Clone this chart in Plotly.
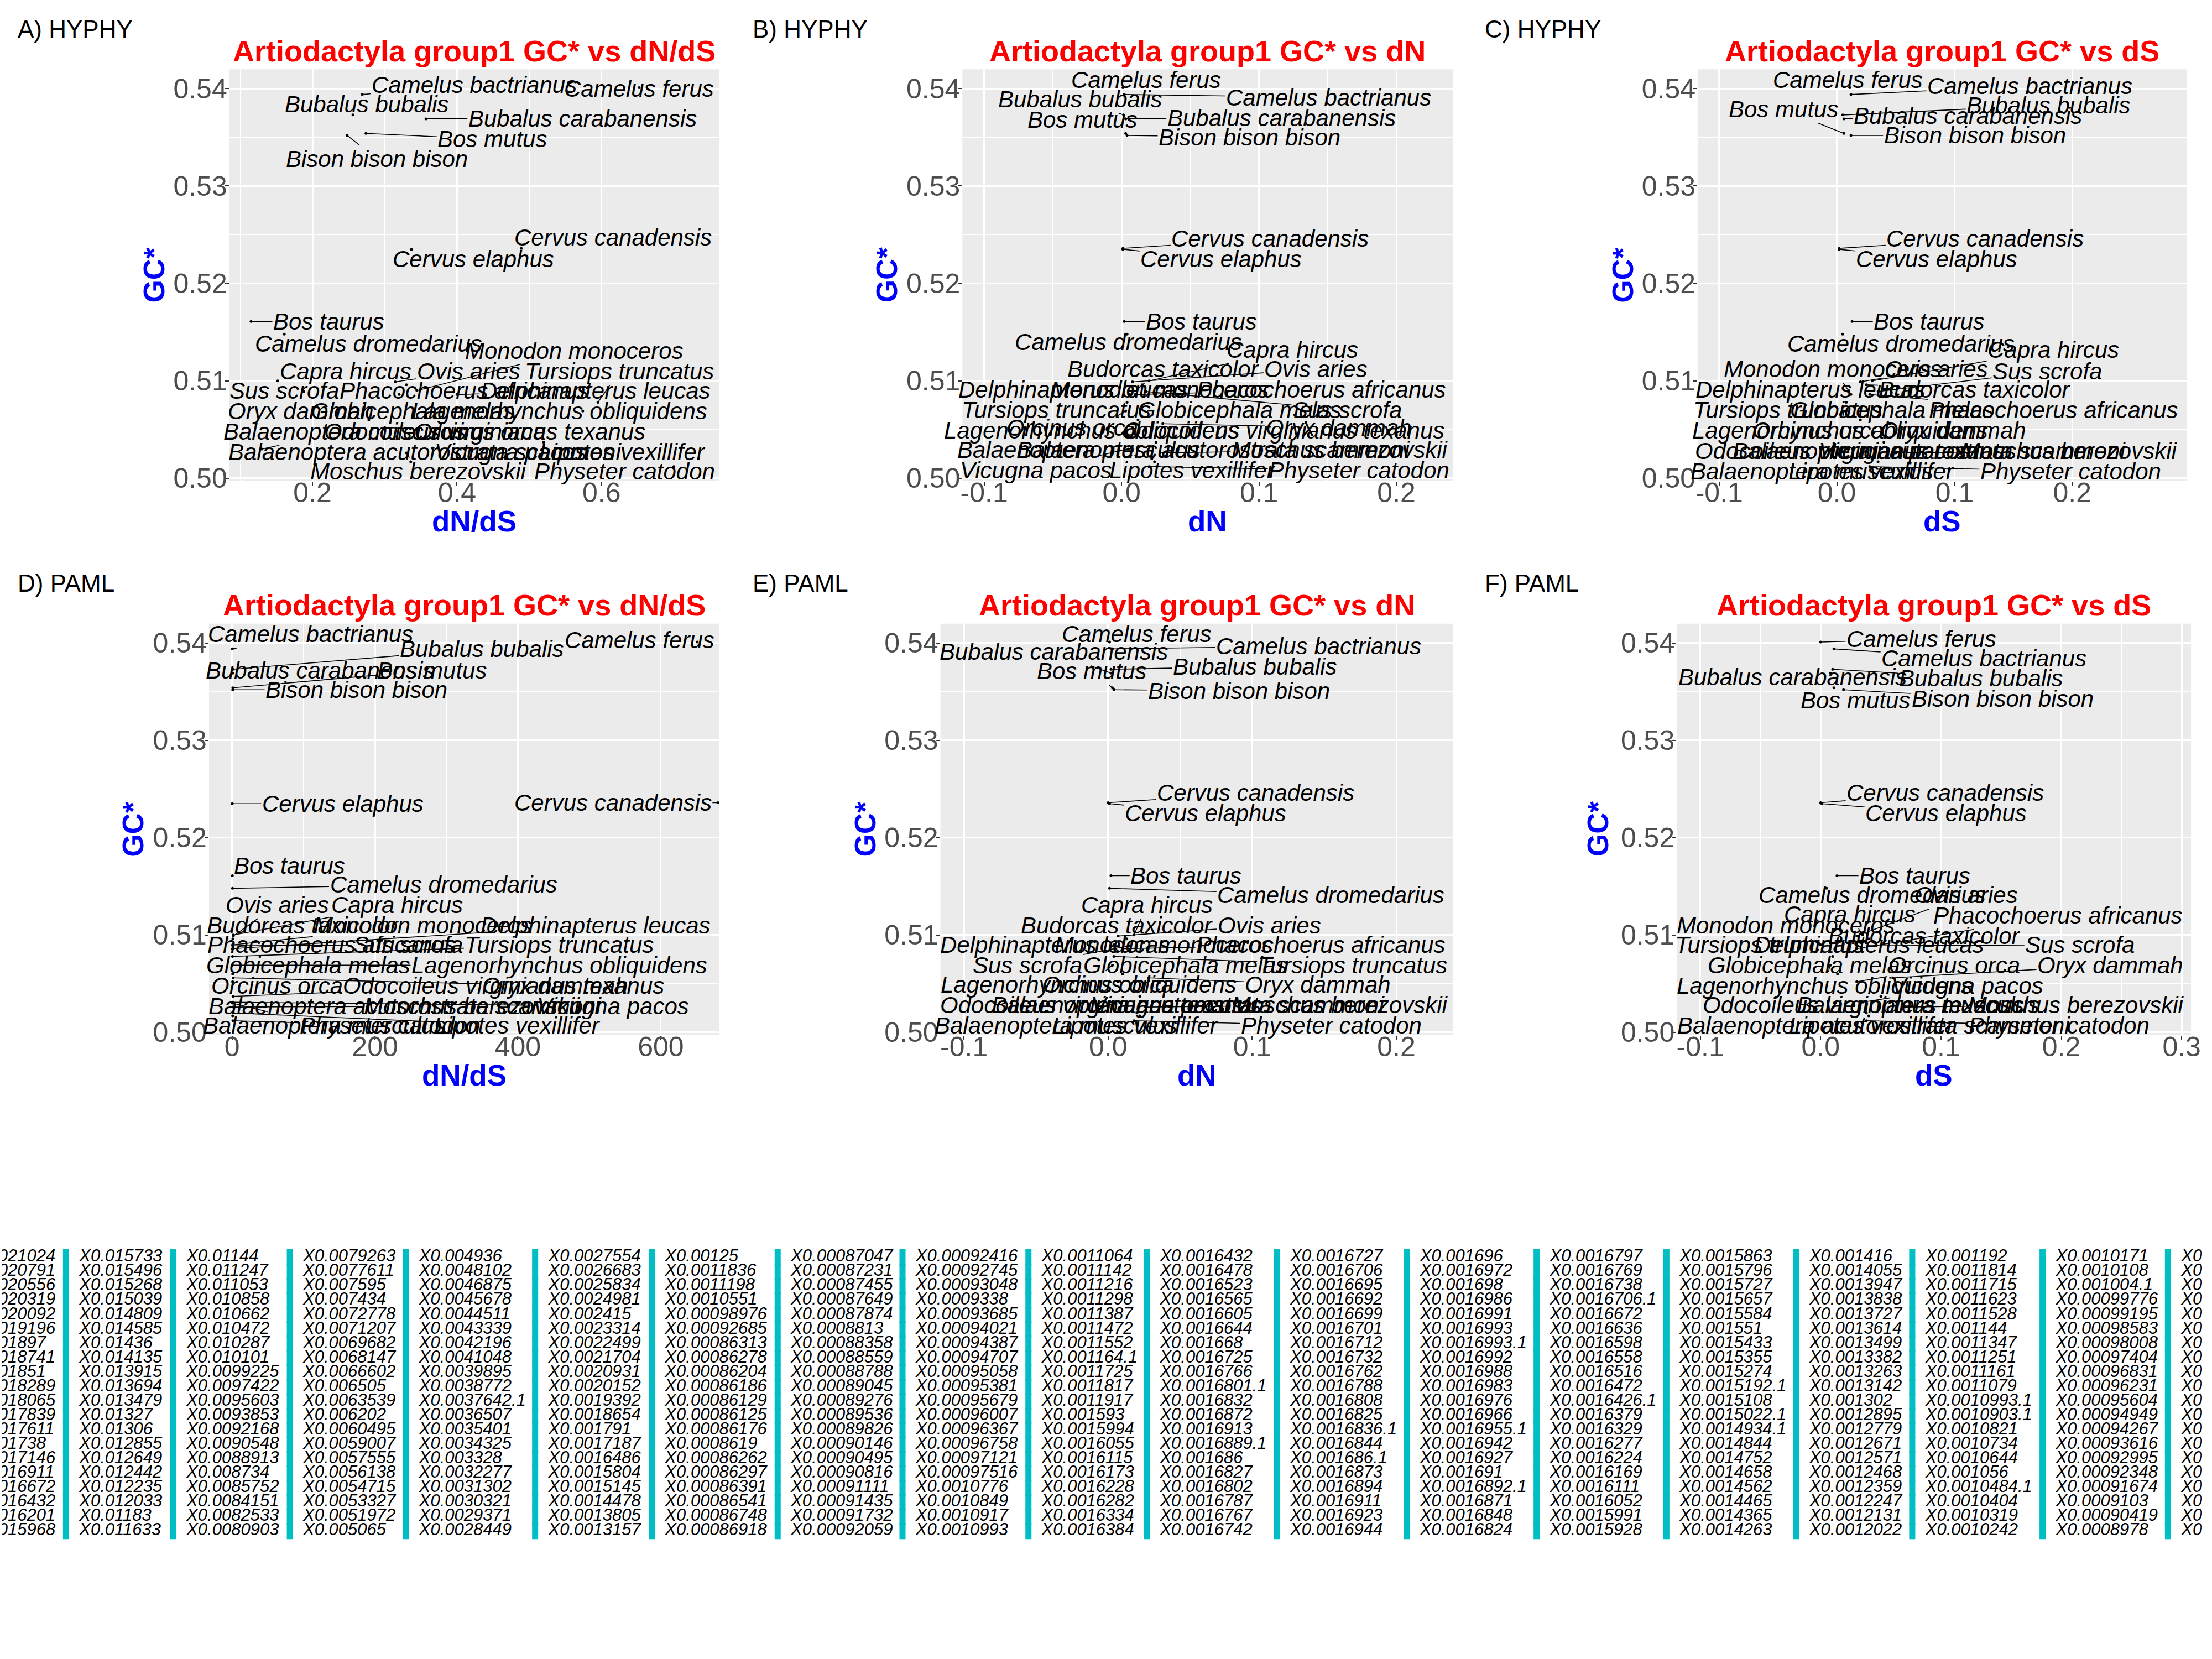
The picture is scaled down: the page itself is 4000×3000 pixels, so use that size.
import plotly.graph_objects as go

# ---------------- data ----------------
species = ["Camelus ferus", "Camelus bactrianus", "Bubalus bubalis", "Bubalus carabanensis",
           "Bos mutus", "Bison bison bison", "Cervus canadensis", "Cervus elaphus", "Bos taurus",
           "Camelus dromedarius", "Capra hircus", "Ovis aries", "Budorcas taxicolor",
           "Monodon monoceros", "Sus scrofa", "Phacochoerus africanus", "Delphinapterus leucas",
           "Tursiops truncatus", "Lagenorhynchus obliquidens", "Globicephala melas", "Oryx dammah",
           "Orcinus orca", "Odocoileus virginianus texanus", "Balaenoptera musculus",
           "Vicugna pacos", "Moschus berezovskii", "Lipotes vexillifer",
           "Balaenoptera acutorostrata scammoni", "Physeter catodon"]

gc_star = [0.5401, 0.5394, 0.5373, 0.5369, 0.5354, 0.5352, 0.5236, 0.5235, 0.5161, 0.5148,
           0.5100, 0.5099, 0.5096, 0.5090, 0.5089, 0.5086, 0.5086, 0.5078, 0.5069, 0.5060,
           0.5056, 0.5052, 0.5037, 0.5030, 0.5031, 0.5026, 0.5020, 0.5017, 0.5012]

hyphy_dnds = [0.652, 0.269, 0.256, 0.357, 0.274, 0.248, 0.489, 0.337, 0.115, 0.161,
              0.152, 0.3145, 0.33, 0.3445, 0.188, 0.32, 0.400, 0.595, 0.574, 0.278,
              0.122, 0.30, 0.520, 0.13, 0.366, 0.33, 0.734, 0.336, 0.70]
hyphy_dn = [0.001, 0.002, 0.0015, 0.003, 0.003, 0.004, 0.001, 0.001, 0.002, 0.004,
            0.02, 0.008, 0.015, 0.005, 0.018, 0.01, 0.006, 0.004, 0.003, 0.012,
            0.03, 0.008, 0.025, 0.005, 0.007, 0.028, 0.022, 0.024, 0.02]
hyphy_ds = [0.011, 0.012, 0.005, 0.006, 0.006, 0.012, 0.002, 0.002, 0.013, 0.005,
            0.03, 0.02, 0.025, 0.01, 0.035, 0.028, 0.012, 0.008, 0.006, 0.02,
            0.045, 0.015, 0.04, 0.008, 0.014, 0.05, 0.03, 0.035, 0.028]
paml_dnds = [651, 0.5, 1.2, 0.8, 1.0, 0.9, 680, 0.3, 0.4, 0.6,
             1.5, 1.8, 1.1, 0.7, 0.9, 1.3, 0.5, 0.6, 0.4, 0.8,
             1.6, 0.7, 1.2, 0.5, 0.9, 1.4, 1.0, 0.8, 1.1]
paml_dn = [0.001, 0.003, 0.002, 0.002, 0.003, 0.004, 0.0, 0.001, 0.002, 0.001,
           0.018, 0.007, 0.013, 0.004, 0.015, 0.01, 0.005, 0.004, 0.003, 0.01,
           0.028, 0.007, 0.022, 0.004, 0.008, 0.026, 0.02, 0.022, 0.018]
paml_ds = [0.0, 0.011, 0.01, 0.008, 0.011, 0.019, 0.0, 0.001, 0.0136, 0.005,
           0.035, 0.03, 0.04, 0.0, 0.045, 0.03, 0.012, 0.01, 0.008, 0.014,
           0.06, 0.03, 0.05, 0.012, 0.035, 0.07, 0.038, 0.04, 0.038]

y_ticks = [0.50, 0.51, 0.52, 0.53, 0.54]
y_ticktext = ["0.50", "0.51", "0.52", "0.53", "0.54"]

# legend labels (column by column, as in the picture)
leg_cols = [
    ["X0.021024", "X0.020791", "X0.020556", "X0.020319", "X0.020092", "X0.019196", "X0.01897", "X0.018741", "X0.01851", "X0.018289",
     "X0.018065", "X0.017839", "X0.017611", "X0.01738", "X0.017146", "X0.016911", "X0.016672", "X0.016432", "X0.016201", "X0.015968"],
    ["X0.015733", "X0.015496", "X0.015268", "X0.015039", "X0.014809", "X0.014585", "X0.01436", "X0.014135", "X0.013915", "X0.013694",
     "X0.013479", "X0.01327", "X0.01306", "X0.012855", "X0.012649", "X0.012442", "X0.012235", "X0.012033", "X0.01183", "X0.011633"],
    ["X0.01144", "X0.011247", "X0.011053", "X0.010858", "X0.010662", "X0.010472", "X0.010287", "X0.010101", "X0.0099225", "X0.0097422",
     "X0.0095603", "X0.0093853", "X0.0092168", "X0.0090548", "X0.0088913", "X0.008734", "X0.0085752", "X0.0084151", "X0.0082533", "X0.0080903"],
    ["X0.0079263", "X0.0077611", "X0.007595", "X0.007434", "X0.0072778", "X0.0071207", "X0.0069682", "X0.0068147", "X0.0066602", "X0.006505",
     "X0.0063539", "X0.006202", "X0.0060495", "X0.0059007", "X0.0057555", "X0.0056138", "X0.0054715", "X0.0053327", "X0.0051972", "X0.005065"],
    ["X0.004936", "X0.0048102", "X0.0046875", "X0.0045678", "X0.0044511", "X0.0043339", "X0.0042196", "X0.0041048", "X0.0039895", "X0.0038772",
     "X0.0037642.1", "X0.0036507", "X0.0035401", "X0.0034325", "X0.003328", "X0.0032277", "X0.0031302", "X0.0030321", "X0.0029371", "X0.0028449"],
    ["X0.0027554", "X0.0026683", "X0.0025834", "X0.0024981", "X0.002415", "X0.0023314", "X0.0022499", "X0.0021704", "X0.0020931", "X0.0020152",
     "X0.0019392", "X0.0018654", "X0.001791", "X0.0017187", "X0.0016486", "X0.0015804", "X0.0015145", "X0.0014478", "X0.0013805", "X0.0013157"],
    ["X0.00125", "X0.0011836", "X0.0011198", "X0.0010551", "X0.00098976", "X0.00092685", "X0.00086313", "X0.00086278", "X0.00086204", "X0.00086186",
     "X0.00086129", "X0.00086125", "X0.00086176", "X0.0008619", "X0.00086262", "X0.00086297", "X0.00086391", "X0.00086541", "X0.00086748", "X0.00086918"],
    ["X0.00087047", "X0.00087231", "X0.00087455", "X0.00087649", "X0.00087874", "X0.0008813", "X0.00088358", "X0.00088559", "X0.00088788", "X0.00089045",
     "X0.00089276", "X0.00089536", "X0.00089826", "X0.00090146", "X0.00090495", "X0.00090816", "X0.00091111", "X0.00091435", "X0.00091732", "X0.00092059"],
    ["X0.00092416", "X0.00092745", "X0.00093048", "X0.0009338", "X0.00093685", "X0.00094021", "X0.00094387", "X0.00094707", "X0.00095058", "X0.00095381",
     "X0.00095679", "X0.00096007", "X0.00096367", "X0.00096758", "X0.00097121", "X0.00097516", "X0.0010776", "X0.0010849", "X0.0010917", "X0.0010993"],
    ["X0.0011064", "X0.0011142", "X0.0011216", "X0.0011298", "X0.0011387", "X0.0011472", "X0.0011552", "X0.001164.1", "X0.0011725", "X0.0011817",
     "X0.0011917", "X0.001593", "X0.0015994", "X0.0016055", "X0.0016115", "X0.0016173", "X0.0016228", "X0.0016282", "X0.0016334", "X0.0016384"],
    ["X0.0016432", "X0.0016478", "X0.0016523", "X0.0016565", "X0.0016605", "X0.0016644", "X0.001668", "X0.0016725", "X0.0016766", "X0.0016801.1",
     "X0.0016832", "X0.0016872", "X0.0016913", "X0.0016889.1", "X0.001686", "X0.0016827", "X0.0016802", "X0.0016787", "X0.0016767", "X0.0016742"],
    ["X0.0016727", "X0.0016706", "X0.0016695", "X0.0016692", "X0.0016699", "X0.0016701", "X0.0016712", "X0.0016732", "X0.0016762", "X0.0016788",
     "X0.0016808", "X0.0016825", "X0.0016836.1", "X0.0016844", "X0.001686.1", "X0.0016873", "X0.0016894", "X0.0016911", "X0.0016923", "X0.0016944"],
    ["X0.001696", "X0.0016972", "X0.001698", "X0.0016986", "X0.0016991", "X0.0016993", "X0.0016993.1", "X0.0016992", "X0.0016988", "X0.0016983",
     "X0.0016976", "X0.0016966", "X0.0016955.1", "X0.0016942", "X0.0016927", "X0.001691", "X0.0016892.1", "X0.0016871", "X0.0016848", "X0.0016824"],
    ["X0.0016797", "X0.0016769", "X0.0016738", "X0.0016706.1", "X0.0016672", "X0.0016636", "X0.0016598", "X0.0016558", "X0.0016516", "X0.0016472",
     "X0.0016426.1", "X0.0016379", "X0.0016329", "X0.0016277", "X0.0016224", "X0.0016169", "X0.0016111", "X0.0016052", "X0.0015991", "X0.0015928"],
    ["X0.0015863", "X0.0015796", "X0.0015727", "X0.0015657", "X0.0015584", "X0.001551", "X0.0015433", "X0.0015355", "X0.0015274", "X0.0015192.1",
     "X0.0015108", "X0.0015022.1", "X0.0014934.1", "X0.0014844", "X0.0014752", "X0.0014658", "X0.0014562", "X0.0014465", "X0.0014365", "X0.0014263"],
    ["X0.001416", "X0.0014055", "X0.0013947", "X0.0013838", "X0.0013727", "X0.0013614", "X0.0013499", "X0.0013382", "X0.0013263", "X0.0013142",
     "X0.001302", "X0.0012895", "X0.0012779", "X0.0012671", "X0.0012571", "X0.0012468", "X0.0012359", "X0.0012247", "X0.0012131", "X0.0012022"],
    ["X0.001192", "X0.0011814", "X0.0011715", "X0.0011623", "X0.0011528", "X0.001144", "X0.0011347", "X0.0011251", "X0.0011161", "X0.0011079",
     "X0.0010993.1", "X0.0010903.1", "X0.0010821", "X0.0010734", "X0.0010644", "X0.001056", "X0.0010484.1", "X0.0010404", "X0.0010319", "X0.0010242"],
    ["X0.0010171", "X0.0010108", "X0.001004.1", "X0.00099776", "X0.00099195", "X0.00098583", "X0.00098008", "X0.00097404", "X0.00096831", "X0.00096231",
     "X0.00095604", "X0.00094949", "X0.00094267", "X0.00093616", "X0.00092995", "X0.00092348", "X0.00091674", "X0.0009103", "X0.00090419", "X0.0008978"],
    ["X0"] * 20,
]

# ---------------- label placement (layout, data coords of label centres) ----------------
lab_A = [(0.652, 0.5400), (0.424, 0.5404), (0.275, 0.5384), (0.5735, 0.5369), (0.449, 0.5348), (0.289, 0.5328),
         (0.616, 0.5247), (0.4226, 0.5225), (0.2226, 0.5161), (0.2774, 0.5138), (0.2458, 0.5110), (0.416, 0.5110),
         None, (0.5626, 0.5131), (0.161, 0.5090), (0.410, 0.5090), (0.5916, 0.5090), (0.625, 0.5110),
         (0.542, 0.5069), (0.3387, 0.5069), (0.184, 0.5069), (0.432, 0.5048), (0.4387, 0.5048), (0.2445, 0.5048),
         (0.474, 0.5027), (0.3465, 0.5007), (0.629, 0.5027), (0.3555, 0.5027), (0.6316, 0.5007)]
lab_B = [(0.0178, 0.5409), (0.1505, 0.5391), (-0.0301, 0.5389), (0.1163, 0.5370), (-0.0287, 0.5368), (0.0931, 0.5350),
         (0.1081, 0.5246), (0.0725, 0.5225), (0.0582, 0.5161), (0.0051, 0.5140), (0.1242, 0.5132), (0.1416, 0.5112),
         (0.0304, 0.5112), (0.028, 0.5091), (0.1642, 0.5070), (0.1454, 0.5091), (-0.0352, 0.5091), (-0.0476, 0.5070),
         (-0.0216, 0.5049), (0.0859, 0.5070), (0.158, 0.5052), (-0.0359, 0.5052), (0.118, 0.5049), (-0.0311, 0.5029),
         (-0.0622, 0.5008), (0.1587, 0.5029), (0.0517, 0.5008), (0.067, 0.5029), (0.1728, 0.5008)]
lab_C = [(0.0095, 0.5409), (0.1641, 0.5403), (0.18, 0.5383), (0.1114, 0.5372), (-0.0456, 0.5379), (0.1173, 0.5352),
         (0.126, 0.5246), (0.0848, 0.5225), (0.0785, 0.5161), (0.0543, 0.5138), (0.1839, 0.5132), (0.0844, 0.5112),
         (0.1173, 0.5091), (-0.0032, 0.5112), (0.1788, 0.5110), (0.1843, 0.5070), (-0.0226, 0.5091), (-0.0416, 0.5070),
         (0.0028, 0.5049), (0.0468, 0.5070), (0.0987, 0.5049), (-0.0159, 0.5049), (0.0159, 0.5028), (-0.021, 0.5007),
         (0.0495, 0.5028), (0.1974, 0.5028), (0.0297, 0.5007), (0.0785, 0.5028), (0.1986, 0.5007)]
lab_D = [(570, 0.5403), (110, 0.5409), (350, 0.5394), (123, 0.5372), (280, 0.5372), (174, 0.5352),
         (533, 0.5236), (155, 0.5235), (80, 0.5171), (296, 0.5152), (231, 0.5131), (63, 0.5131),
         (99, 0.5110), (267, 0.5110), (246, 0.5090), (140, 0.5090), (509, 0.5110), (458, 0.5090),
         (458, 0.5069), (107, 0.5069), (452, 0.5048), (63, 0.5048), (380, 0.5048), (129, 0.5007),
         (533, 0.5027), (336, 0.5027), (399, 0.5007), (242, 0.5027), (221, 0.5007)]
lab_E = [(0.0199, 0.5409), (0.1461, 0.5397), (0.102, 0.5376), (-0.0378, 0.5391), (-0.0114, 0.5371), (0.091, 0.5351),
         (0.1024, 0.5246), (0.0678, 0.5225), (0.0541, 0.5161), (0.1546, 0.5141), (0.0271, 0.5131), (0.1118, 0.5110),
         (0.0062, 0.5110), (0.0385, 0.5090), (-0.0561, 0.5069), (0.1477, 0.5090), (-0.0368, 0.5090), (0.1696, 0.5069),
         (-0.0134, 0.5049), (0.0538, 0.5069), (0.1454, 0.5049), (0.0, 0.5049), (-0.0052, 0.5028), (-0.0362, 0.5007),
         (0.0408, 0.5028), (0.1607, 0.5028), (0.0192, 0.5007), (0.0554, 0.5028), (0.1549, 0.5007)]
lab_F = [(0.0837, 0.5404), (0.1357, 0.5384), (0.1333, 0.5364), (-0.0233, 0.5365), (0.029, 0.5341), (0.1512, 0.5343),
         (0.1035, 0.5246), (0.1043, 0.5225), (0.0783, 0.5161), (0.0426, 0.5141), (0.024, 0.5121), (0.1209, 0.5141),
         (0.0864, 0.5099), (-0.029, 0.5110), (0.2155, 0.5090), (0.1973, 0.5120), (0.0403, 0.5090), (-0.0422, 0.5090),
         (0.0031, 0.5048), (-0.0089, 0.5069), (0.2407, 0.5069), (0.1109, 0.5069), (0.0353, 0.5028), (0.081, 0.5028),
         (0.1217, 0.5048), (0.212, 0.5028), (0.0426, 0.5007), (0.0442, 0.5007), (0.198, 0.5007)]

W, H = 4000, 3000
YS = 0.990  # small vertical correction
FONT = "Liberation Sans, Arial, Helvetica, sans-serif"
ROWS = [(125, 868), (1125.5, 1868)]
Y_RANGE = [0.49972, 0.54199]

panels = [
    dict(tag="A) HYPHY", title="Artiodactyla group1 GC* vs dN/dS", xt="dN/dS", x=hyphy_dnds, lab=lab_A,
         dom=(413, 1304), xr=[0.085, 0.763], tv=[0.2, 0.4, 0.6], tt=["0.2", "0.4", "0.6"], minor=0.1,
         row=0, gcx=276, tagx=26),
    dict(tag="B) HYPHY", title="Artiodactyla group1 GC* vs dN", xt="dN", x=hyphy_dn, lab=lab_B,
         dom=(1746, 2638), xr=[-0.1158, 0.2412], tv=[-0.1, 0, 0.1, 0.2], tt=["-0.1", "0.0", "0.1", "0.2"], minor=0.05,
         row=0, gcx=1608, tagx=1362),
    dict(tag="C) HYPHY", title="Artiodactyla group1 GC* vs dS", xt="dS", x=hyphy_ds, lab=lab_C,
         dom=(3083, 3972), xr=[-0.1182, 0.2972], tv=[-0.1, 0, 0.1, 0.2], tt=["-0.1", "0.0", "0.1", "0.2"], minor=0.05,
         row=0, gcx=2946, tagx=2694),
    dict(tag="D) PAML", title="Artiodactyla group1 GC* vs dN/dS", xt="dN/dS", x=paml_dnds, lab=lab_D,
         dom=(376, 1304), xr=[-32.3, 682], tv=[0, 200, 400, 600], tt=["0", "200", "400", "600"], minor=100,
         row=1, gcx=237, tagx=26),
    dict(tag="E) PAML", title="Artiodactyla group1 GC* vs dN", xt="dN", x=paml_dn, lab=lab_E,
         dom=(1706, 2638), xr=[-0.1163, 0.2393], tv=[-0.1, 0, 0.1, 0.2], tt=["-0.1", "0.0", "0.1", "0.2"], minor=0.05,
         row=1, gcx=1569, tagx=1362),
    dict(tag="F) PAML", title="Artiodactyla group1 GC* vs dS", xt="dS", x=paml_ds, lab=lab_F,
         dom=(3045, 3980), xr=[-0.1195, 0.3078], tv=[-0.1, 0, 0.1, 0.2, 0.3], tt=["-0.1", "0.0", "0.1", "0.2", "0.3"],
         minor=0.05, row=1, gcx=2901, tagx=2694),
]


def px(xp):
    return xp / W


def py(yp):
    return 1 - (yp / YS) / H


fig = go.Figure()
annotations = []
shapes = []
layout = {}

LABEL_SIZE = 42
TICKFONT = dict(family=FONT, size=50, color="#4D4D4D")
for i, p in enumerate(panels, start=1):
    xa = "x" if i == 1 else f"x{i}"
    ya = "y" if i == 1 else f"y{i}"
    top, bot = ROWS[p["row"]]
    x0, x1 = p["dom"]
    layout["xaxis" if i == 1 else f"xaxis{i}"] = dict(
        domain=[px(x0), px(x1)], range=p["xr"], anchor=ya, tickmode="array", tickvals=p["tv"], ticktext=p["tt"],
        showgrid=True, gridcolor="white", gridwidth=2.6, zeroline=False, showline=False,
        ticks="outside", ticklen=7, tickwidth=2, tickcolor="#333333", ticklabelstandoff=-30,
        tickfont=TICKFONT,
        minor=dict(tickmode="linear", tick0=0, dtick=p["minor"], showgrid=True, gridcolor="white", gridwidth=1.3, ticks=""),
    )
    layout["yaxis" if i == 1 else f"yaxis{i}"] = dict(
        domain=[py(bot), py(top)], range=Y_RANGE, anchor=xa, tickmode="array", tickvals=y_ticks, ticktext=y_ticktext,
        showgrid=True, gridcolor="white", gridwidth=2.6, zeroline=False, showline=False,
        ticks="outside", ticklen=7, tickwidth=2, tickcolor="#333333", ticklabelstandoff=-14,
        tickfont=TICKFONT,
        minor=dict(tickmode="linear", tick0=0, dtick=0.005, showgrid=True, gridcolor="white", gridwidth=1.3, ticks=""),
    )
    shapes.append(dict(type="rect", xref=f"{xa} domain", yref=f"{ya} domain", x0=0, x1=1, y0=0, y1=1,
                       fillcolor="#EBEBEB", line=dict(width=0), layer="below"))

    fig.add_trace(go.Scatter(x=p["x"], y=gc_star, mode="markers", xaxis=xa, yaxis=ya,
                             marker=dict(color="black", size=5), showlegend=False, hoverinfo="skip"))

    # scales for label box test
    sx = (x1 - x0) / (p["xr"][1] - p["xr"][0])
    sy = (bot - top) / (Y_RANGE[1] - Y_RANGE[0])
    for k, name in enumerate(species):
        lab = p["lab"][k]
        if lab is None:
            continue
        lx, ly = lab
        xv, yv = p["x"][k], gc_star[k]
        half_w = len(name) * 0.5 * LABEL_SIZE / 2
        half_h = LABEL_SIZE * 0.6
        inside = abs((lx - xv) * sx) < half_w and abs((ly - yv) * sy) < half_h
        font = dict(family=FONT, size=LABEL_SIZE, color="black", style="italic")
        if inside:
            annotations.append(dict(x=lx, y=ly, xref=xa, yref=ya, text=name, showarrow=False,
                                    xanchor="center", yanchor="middle", font=font))
        else:
            annotations.append(dict(x=xv, y=yv, xref=xa, yref=ya, ax=lx, ay=ly, axref=xa, ayref=ya,
                                    text=name, showarrow=True, arrowhead=0, arrowwidth=1.6,
                                    arrowcolor="black", standoff=0, font=font))

    off = 1000 * p["row"]
    cx = (x0 + x1) / 2
    annotations.append(dict(x=px(cx), y=py(92 + off), xref="paper", yref="paper", showarrow=False,
                            text=f"<b>{p['title']}</b>", xanchor="center", yanchor="middle",
                            font=dict(family=FONT, size=54, color="#FF0000")))
    annotations.append(dict(x=px(p["tagx"]), y=py(52 + off), xref="paper", yref="paper", showarrow=False,
                            text=p["tag"], xanchor="left", yanchor="middle",
                            font=dict(family=FONT, size=44, color="black")))
    annotations.append(dict(x=px(cx), y=py(941 + off), xref="paper", yref="paper", showarrow=False,
                            text=f"<b>{p['xt']}</b>", xanchor="center", yanchor="middle",
                            font=dict(family=FONT, size=53, color="#0000FF")))
    annotations.append(dict(x=px(p["gcx"]), y=py(496 + off), xref="paper", yref="paper", showarrow=False,
                            text="<b>GC*</b>", textangle=-90, xanchor="center", yanchor="middle",
                            font=dict(family=FONT, size=53, color="#0000FF")))

# ---------------- broken legend at bottom ----------------
col_text_x = [-54, 140, 335, 547, 758, 993, 1205, 1434, 1661, 1890, 2105, 2342, 2578, 2814, 3050, 3286, 3497, 3734, 3962]
row_y0, row_dy = 2269, 26.0
lx_t, ly_t, lt, sw_x, sw_y = [], [], [], [], []
for c, col in enumerate(leg_cols):
    for r, txt in enumerate(col):
        yy = row_y0 + r * row_dy
        lx_t.append(col_text_x[c])
        ly_t.append(yy)
        lt.append(txt)
        sw_x.append(col_text_x[c] - 24)
        sw_y.append(yy)

fig.add_trace(go.Scatter(x=sw_x, y=sw_y, mode="markers", xaxis="x7", yaxis="y7", showlegend=False,
                         hoverinfo="skip",
                         marker=dict(symbol="line-ns", size=21, color="#00BFC4",
                                     line=dict(width=11, color="#00BFC4"))))
fig.add_trace(go.Scatter(x=lx_t, y=ly_t, mode="text", text=lt, textposition="middle right",
                         xaxis="x7", yaxis="y7", showlegend=False, hoverinfo="skip",
                         textfont=dict(family=FONT, size=31, color="black", style="italic")))
layout["xaxis7"] = dict(domain=[0, 1], range=[0, W], visible=False, fixedrange=True, anchor="y7")
layout["yaxis7"] = dict(domain=[py(2800), py(2200)], range=[2800, 2200], visible=False, fixedrange=True, anchor="x7")

fig.update_layout(
    width=W, height=H, margin=dict(l=0, r=0, t=0, b=0, pad=0),
    paper_bgcolor="white", plot_bgcolor="rgba(0,0,0,0)",
    showlegend=False, annotations=annotations, shapes=shapes,
    font=dict(family=FONT),
    **layout,
)

fig.write_html("out.html")
